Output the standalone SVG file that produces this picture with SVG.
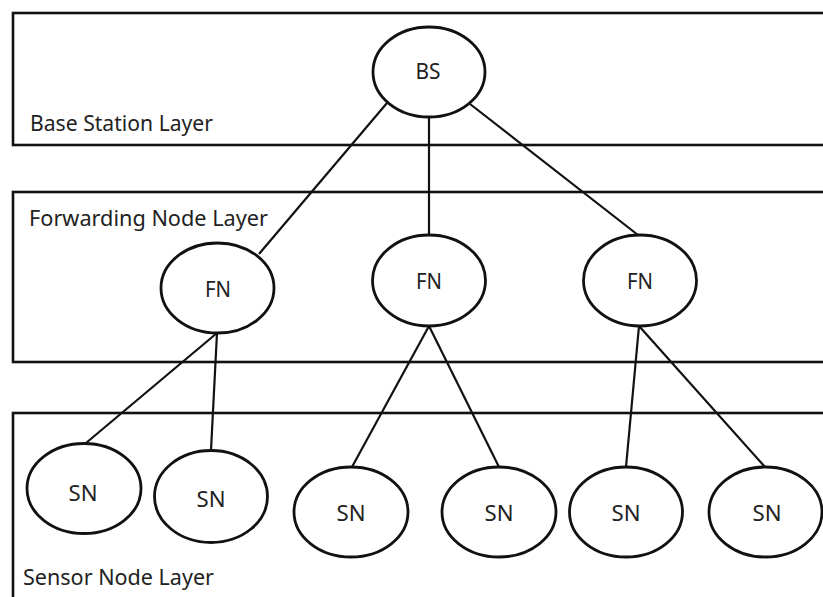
<svg xmlns="http://www.w3.org/2000/svg" width="823" height="597" viewBox="0 0 823 597">
<style>
.layer{fill:#fff;stroke:#111;stroke-width:2.6}
.node{fill:#fff;stroke:#111;stroke-width:2.8}
.edge{stroke:#111;stroke-width:2.2;fill:none}
.lbl{font-family:"Noto Sans","Open Sans",sans-serif;font-size:21.5px;fill:#222}
.nl{font-family:"Noto Sans","Open Sans",sans-serif;font-size:21.5px;fill:#222;text-anchor:middle}
</style>
<rect width="823" height="597" fill="#fff"/>
<g id="base-layer"><rect class="layer" x="13" y="13" width="830" height="132"/><text class="lbl" x="30" y="131" textLength="183" lengthAdjust="spacingAndGlyphs">Base Station Layer</text></g>
<g id="forwarding-layer"><rect class="layer" x="13" y="192" width="830" height="170"/><text class="lbl" x="29" y="226" textLength="239" lengthAdjust="spacingAndGlyphs">Forwarding Node Layer</text></g>
<g id="sensor-layer"><rect class="layer" x="13" y="413" width="830" height="200"/><text class="lbl" x="23" y="585" textLength="191" lengthAdjust="spacingAndGlyphs">Sensor Node Layer</text></g>
<g id="connectors">
<line class="edge" x1="387" y1="103" x2="259" y2="254"/>
<line class="edge" x1="429" y1="117" x2="429" y2="235"/>
<line class="edge" x1="470" y1="104" x2="638" y2="235"/>
<line class="edge" x1="217" y1="333" x2="86" y2="443"/>
<line class="edge" x1="217" y1="333" x2="211" y2="450"/>
<line class="edge" x1="429" y1="326" x2="352" y2="467"/>
<line class="edge" x1="429" y1="326" x2="499" y2="467"/>
<line class="edge" x1="639" y1="326" x2="626" y2="467"/>
<line class="edge" x1="639" y1="326" x2="765" y2="467"/>
</g>
<g id="bs"><ellipse class="node" cx="429" cy="72" rx="56" ry="45"/><text class="nl" x="428" y="79" textLength="25" lengthAdjust="spacingAndGlyphs">BS</text></g>
<g id="fn1"><ellipse class="node" cx="217.5" cy="288" rx="56.5" ry="45"/><text class="nl" x="218" y="297" textLength="26" lengthAdjust="spacingAndGlyphs">FN</text></g>
<g id="fn2"><ellipse class="node" cx="429" cy="280.5" rx="56.5" ry="45.5"/><text class="nl" x="429" y="289" textLength="26" lengthAdjust="spacingAndGlyphs">FN</text></g>
<g id="fn3"><ellipse class="node" cx="640" cy="280.5" rx="56.5" ry="45.5"/><text class="nl" x="640" y="289" textLength="26" lengthAdjust="spacingAndGlyphs">FN</text></g>
<g id="sn1"><ellipse class="node" cx="84" cy="488.5" rx="57" ry="45"/><text class="nl" x="83" y="501" textLength="29" lengthAdjust="spacingAndGlyphs">SN</text></g>
<g id="sn2"><ellipse class="node" cx="211" cy="496.5" rx="56.5" ry="46"/><text class="nl" x="211" y="507" textLength="29" lengthAdjust="spacingAndGlyphs">SN</text></g>
<g id="sn3"><ellipse class="node" cx="351" cy="512" rx="57" ry="45"/><text class="nl" x="351" y="521" textLength="29" lengthAdjust="spacingAndGlyphs">SN</text></g>
<g id="sn4"><ellipse class="node" cx="499" cy="512" rx="57" ry="45"/><text class="nl" x="499" y="521" textLength="29" lengthAdjust="spacingAndGlyphs">SN</text></g>
<g id="sn5"><ellipse class="node" cx="626" cy="512" rx="56.5" ry="45"/><text class="nl" x="626" y="521" textLength="29" lengthAdjust="spacingAndGlyphs">SN</text></g>
<g id="sn6"><ellipse class="node" cx="765.5" cy="512" rx="56.5" ry="45"/><text class="nl" x="767" y="521" textLength="29" lengthAdjust="spacingAndGlyphs">SN</text></g>
</svg>
